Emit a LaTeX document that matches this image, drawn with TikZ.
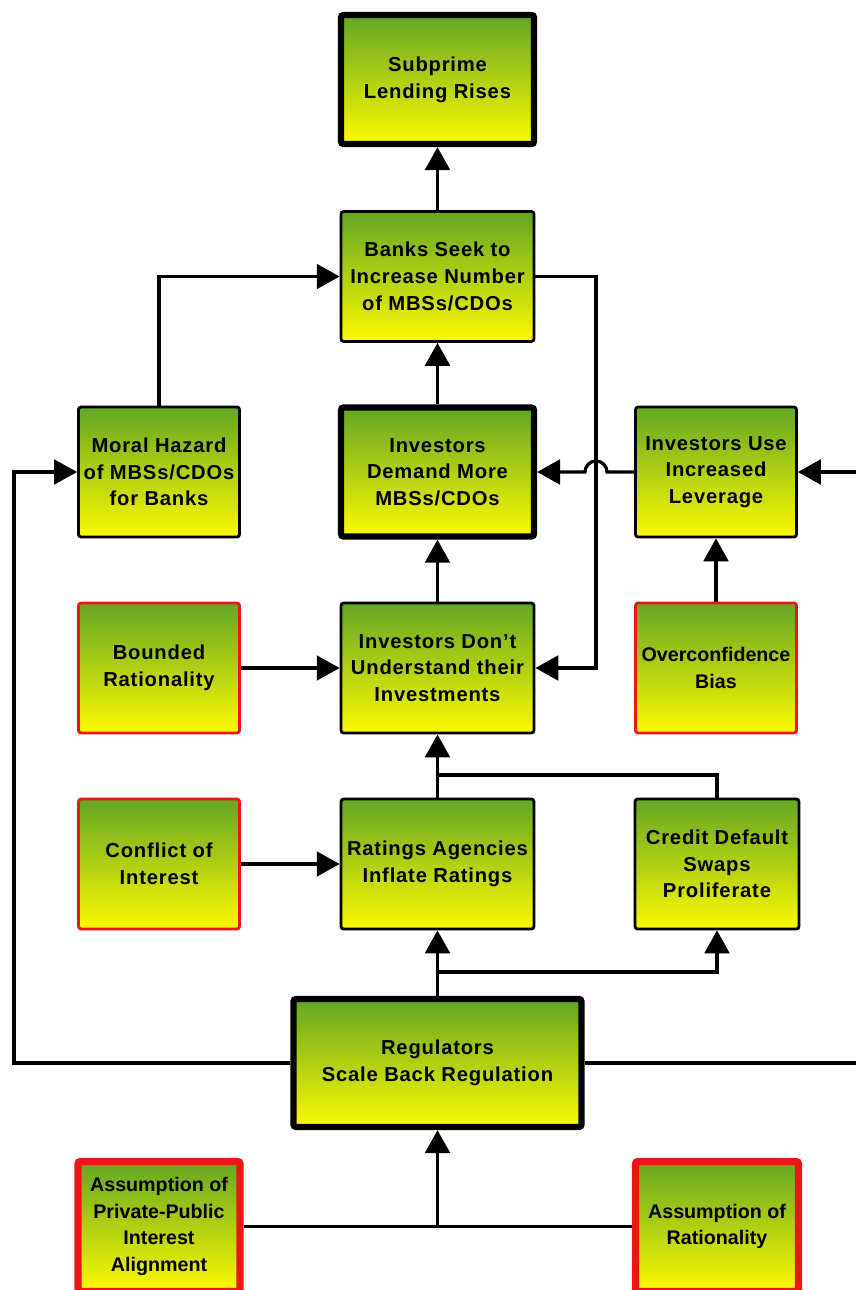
\documentclass[tikz,border=0pt]{standalone}
\usepackage{fontspec}
\setmainfont{Liberation Sans}[LetterSpace=4]
\usepackage{tikz}
\usetikzlibrary{arrows.meta}
\pgfdeclarelayer{bg}
\pgfsetlayers{bg,main}
\definecolor{grtop}{RGB}{100,166,36}
\definecolor{yelbot}{RGB}{252,250,0}
\definecolor{bordred}{RGB}{236,22,22}
\newcommand{\boxfont}{\fontsize{11.5}{15.2}\selectfont\bfseries}
\newcommand{\tightfont}{\fontsize{11.2}{15.2}\selectfont\addfontfeature{LetterSpace=0}\bfseries}
\tikzset{
        box/.style={draw=black, line width=1.6pt, rounded corners=1.5pt,
                top color=grtop, bottom color=yelbot, align=center,
                minimum width=3.22cm, minimum height=2.6cm, font=\boxfont, inner sep=1pt},
        wide/.style={box, minimum width=3.86cm},
        key/.style={wide, line width=3.6pt, minimum height=2.58cm},
        cause/.style={box, draw=bordred},
        assume/.style={box, draw=bordred, line width=4.2pt, minimum width=3.24cm, minimum height=2.6cm, font=\tightfont},
        line/.style={line width=1.8pt},
        link/.style={line width=1.8pt, -{Triangle[length=13pt,width=14pt]}}
}

\begin{document}
\begin{tikzpicture}
        \useasboundingbox (0cm, 0cm) rectangle (17.12cm, -25.8cm);
        \node (sub) [key] at (8.75cm, -1.59cm) {Subprime\\Lending Rises};
        \node (banks) [wide] at (8.75cm, -5.53cm) {Banks Seek to\\Increase Number\\of MBSs/CDOs};
        \node (moral) [box] at (3.18cm, -9.44cm) {Moral Hazard\\of MBSs/CDOs\\for Banks};
        \node (demand) [key] at (8.75cm, -9.44cm) {Investors\\Demand More\\MBSs/CDOs};
        \node (lev) [box] at (14.32cm, -9.44cm) {Investors Use\\Increased\\Leverage};
        \node (bounded) [cause] at (3.18cm, -13.36cm) {Bounded\\Rationality};
        \node (underst) [wide] at (8.75cm, -13.36cm) {Investors Don't\\Understand their\\Investments};
        \node (over) [cause, font=\tightfont] at (14.32cm, -13.36cm) {Overconfidence\\Bias};
        \node (conflict) [cause] at (3.18cm, -17.28cm) {Conflict of\\Interest};
        \node (ratings) [wide] at (8.75cm, -17.28cm) {Ratings Agencies\\Inflate Ratings};
        \node (cds) [box, minimum width=3.28cm] at (14.34cm, -17.28cm) {Credit Default\\Swaps\\Proliferate};
        \node (reg) [key, minimum width=5.76cm, minimum height=2.56cm] at (8.75cm, -21.26cm) {Regulators\\Scale Back Regulation};
        \node (pp) [assume] at (3.18cm, -24.53cm) {Assumption of\\Private-Public\\Interest\\Alignment};
        \node (rat) [assume, minimum width=3.26cm] at (14.34cm, -24.53cm) {Assumption of\\Rationality};
        \coordinate (hop) at (11.92cm, -9.44cm);
        \coordinate (j1) at (8.75cm, -15.5cm);
        \coordinate (j2) at (8.75cm, -19.44cm);
        \coordinate (j3) at (8.75cm, -24.53cm);
        \coordinate (lft) at (0.28cm, -21.26cm);
        \coordinate (r1) at (17.4cm, -21.26cm);
        \coordinate (r2) at (17.4cm, -9.44cm);
        \begin{pgfonlayer}{bg}
                \draw (banks) edge [link] (sub);
                \draw (demand) edge [link] (banks);
                \draw (underst) edge [link] (demand);
                \draw (ratings) edge [link] (underst);
                \draw (reg) edge [link] (ratings);
                \draw (j3) edge [link] (reg);
                \draw (over) edge [link] (lev);
                \draw (bounded) edge [link] (underst);
                \draw (conflict) edge [link] (ratings);
                \draw (r2) edge [link] (lev);
                \draw [link] (moral) |- (banks);
                \draw [link] (banks.east) -| (hop) |- (underst.east);
                \draw [link] (lev.west) -- ([xshift=0.22cm]hop) arc [start angle=0, end angle=180, radius=0.22cm] -- (demand.east);
                \draw [line] (cds) |- (j1);
                \draw [link] (j2) -| (cds);
                \draw [link] (reg.west) -- (lft) |- (moral);
                \draw [line] (reg) -- (r1);
                \draw [line] (pp) -- (rat);
        \end{pgfonlayer}
\end{tikzpicture}
\end{document}
